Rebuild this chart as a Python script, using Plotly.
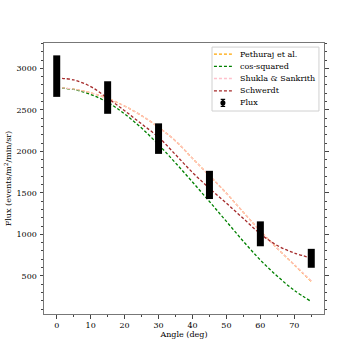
import plotly.graph_objects as go

# angles of the measurements (deg) and measured flux with errors
angle_pts = [0, 15, 30, 45, 60, 75]
flux = [2906, 2648, 2153, 1595, 1006, 711]
flux_err = [250, 196, 184, 170, 150, 114]

# model curves, every 5 deg
angle_model = [0, 5, 10, 15, 20, 25, 30, 35, 40, 45, 50, 55, 60, 65, 70, 75]
pethuraj = [2767, 2750, 2705, 2637, 2545, 2430, 2290, 2125, 1915, 1707, 1495, 1265, 1040, 830, 632, 432]
cos_squared = [2765, 2745, 2685, 2590, 2450, 2280, 2080, 1860, 1630, 1395, 1155, 915, 690, 495, 325, 190]
shukla = [2767, 2750, 2705, 2637, 2545, 2430, 2290, 2125, 1915, 1707, 1495, 1265, 1040, 830, 635, 438]
schwerdt = [2884, 2860, 2780, 2640, 2490, 2330, 2170, 1960, 1745, 1555, 1375, 1190, 1005, 865, 775, 715]

FONT = "DejaVu Serif"
FS = 8
DASH = "3px,2px"

fig = go.Figure()

models = [
    ("Pethuraj et al.", pethuraj, "orange"),
    ("cos-squared", cos_squared, "green"),
    ("Shukla & Sankrith", shukla, "pink"),
    ("Schwerdt", schwerdt, "brown"),
]
for name, vals, col in models:
    fig.add_trace(go.Scatter(
        x=angle_model, y=vals, mode="lines", name=name, showlegend=False,
        line=dict(color=col, width=1.3, dash=DASH, shape="spline"),
    ))

fig.add_trace(go.Scatter(
    x=angle_pts, y=flux, mode="markers", name="Flux", showlegend=False,
    marker=dict(color="black", size=5),
    error_y=dict(type="data", array=flux_err, color="black", thickness=7, width=0),
))

# legend drawn by hand (plotly's own legend rows are too tall at this size)
fig.add_shape(type="rect", xref="paper", yref="paper",
              x0=0.6, x1=0.982, y0=0.749, y1=0.985,
              line=dict(color="#d0d0d0", width=1), fillcolor="rgba(255,255,255,0.85)")
row_y = [0.959, 0.914, 0.869, 0.823, 0.779]
for (name, _, col), ry in zip(models, row_y):
    fig.add_shape(type="line", xref="paper", yref="paper",
                  x0=0.607, x1=0.671, y0=ry, y1=ry,
                  line=dict(color=col, width=1.3, dash=DASH))
    fig.add_annotation(xref="paper", yref="paper", x=0.694, y=ry, text=name,
                       showarrow=False, xanchor="left", yanchor="middle",
                       font=dict(family=FONT, size=FS, color="black"))
# errorbar symbol for Flux
fy = row_y[4]
fx = 0.639
fig.add_shape(type="line", xref="paper", yref="paper", x0=fx, x1=fx, y0=fy - 0.013, y1=fy + 0.013,
              line=dict(color="black", width=1.5))
for cy in (fy - 0.013, fy + 0.013):
    fig.add_shape(type="line", xref="paper", yref="paper", x0=fx - 0.008, x1=fx + 0.008, y0=cy, y1=cy,
                  line=dict(color="black", width=1.2))
fig.add_shape(type="circle", xref="paper", yref="paper",
              x0=fx - 0.009, x1=fx + 0.009, y0=fy - 0.0093, y1=fy + 0.0093,
              line=dict(color="black", width=0), fillcolor="black")
fig.add_annotation(xref="paper", yref="paper", x=0.694, y=fy, text="Flux",
                   showarrow=False, xanchor="left", yanchor="middle",
                   font=dict(family=FONT, size=FS, color="black"))

fig.update_layout(
    width=360, height=360,
    margin=dict(l=44, r=36, t=43, b=46),
    paper_bgcolor="white", plot_bgcolor="white",
    font=dict(family=FONT, size=FS, color="black"),
    showlegend=False,
)
fig.update_xaxes(
    range=[-3.75, 78.75], tickvals=[0, 10, 20, 30, 40, 50, 60, 70],
    tickfont=dict(family=FONT, size=FS, color="black"), ticklabelstandoff=0,
    showgrid=False, zeroline=False, automargin=False,
    showline=True, linecolor="#777777", linewidth=1, mirror=True,
    ticks="outside", ticklen=3.5, tickwidth=1, tickcolor="#444444",
    minor=dict(dtick=5, tick0=0, ticks="outside", ticklen=2, tickcolor="#444444", showgrid=False),
    title=dict(text="Angle (deg)", font=dict(family=FONT, size=FS, color="black"), standoff=2),
)
fig.update_yaxes(
    range=[40, 3305], tickvals=[500, 1000, 1500, 2000, 2500, 3000],
    tickfont=dict(family=FONT, size=FS, color="black"), ticklabelstandoff=1,
    showgrid=False, zeroline=False, automargin=False,
    showline=True, linecolor="#777777", linewidth=1, mirror="ticks",
    ticks="outside", ticklen=3.5, tickwidth=1, tickcolor="#444444",
    minor=dict(dtick=100, tick0=0, ticks="outside", ticklen=2, tickcolor="#444444", showgrid=False),
    title=dict(text="Flux (events/m<sup>2</sup>/min/sr)", font=dict(family=FONT, size=FS, color="black"), standoff=3),
)

fig.write_html("out.html", config={"displayModeBar": False},
               post_script="document.body.style.margin='0';")
